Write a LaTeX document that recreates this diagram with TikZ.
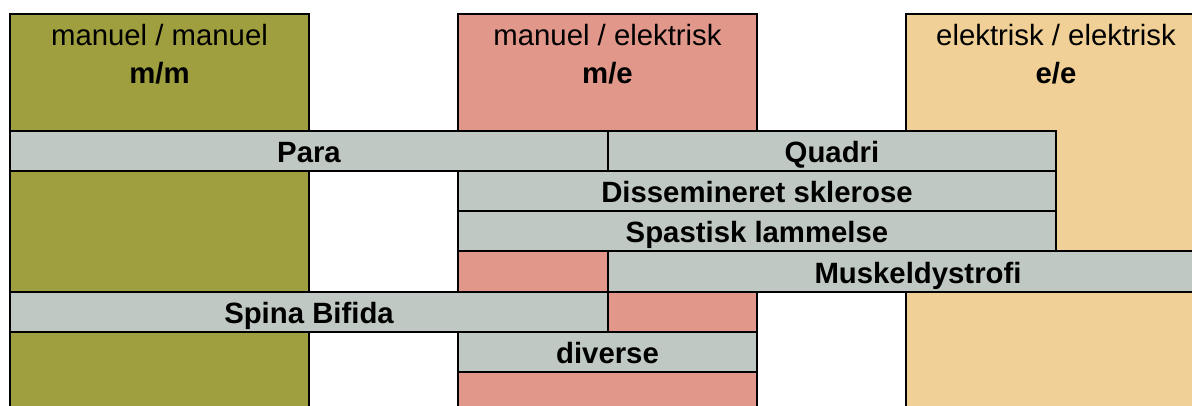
\documentclass[tikz,border=0pt]{standalone}
\usepackage{fontspec}
\setmainfont{Liberation Sans}
\definecolor{colMM}{HTML}{9F9F3F}
\definecolor{colME}{HTML}{E2978B}
\definecolor{colEE}{HTML}{F0D096}
\definecolor{colBar}{HTML}{BFC8C2}
\tikzset{
  colbox/.style={draw=black, line width=1.6pt},
  barbox/.style={draw=black, fill=colBar, line width=1.6pt},
  lbl/.style={font=\fontsize{22}{26}\selectfont\bfseries, anchor=base, inner sep=0pt},
  head/.style={font=\fontsize{22}{26}\selectfont, anchor=base, inner sep=0pt},
  headb/.style={font=\fontsize{22}{26}\selectfont\bfseries, anchor=base, inner sep=0pt},
}
\begin{document}
\begin{tikzpicture}[x=0.75pt,y=-0.75pt]
\useasboundingbox (0,0) rectangle (1192,405);
\clip (0,0) rectangle (1192,405);
% columns
\draw[colbox, fill=colMM] (10,14) rectangle (309,430);
\draw[colbox, fill=colME] (458,14) rectangle (757,430);
\draw[colbox, fill=colEE] (906,14) rectangle (1206,430);
\node[head] (h1) at (159.5,45) {manuel / manuel};
\node[headb] (h1b) at (159.5,83) {m/m};
\node[head] (h2) at (607.5,45) {manuel / elektrisk};
\node[headb] (h2b) at (607.5,83) {m/e};
\node[head] (h3) at (1056,45) {elektrisk / elektrisk};
\node[headb] (h3b) at (1056,83) {e/e};
% bars
\draw[barbox] (10,131) rectangle (608,171);
\node[lbl] (para) at (309,162.5) {Para};
\draw[barbox] (608,131) rectangle (1056,171);
\node[lbl] (quadri) at (832,162.5) {Quadri};
\draw[barbox] (458,171) rectangle (1056,211);
\node[lbl] (dis) at (757,202.5) {Dissemineret sklerose};
\draw[barbox] (458,211) rectangle (1056,251);
\node[lbl] (spa) at (757,242.5) {Spastisk lammelse};
\draw[barbox] (608,251) rectangle (1228,292);
\node[lbl] (mus) at (918,283) {Muskeldystrofi};
\draw[barbox] (10,292) rectangle (608,332);
\node[lbl] (spina) at (309,323) {Spina Bifida};
\draw[barbox] (458,332) rectangle (757,372);
\node[lbl] (div) at (607.5,363) {diverse};
\end{tikzpicture}
\end{document}
